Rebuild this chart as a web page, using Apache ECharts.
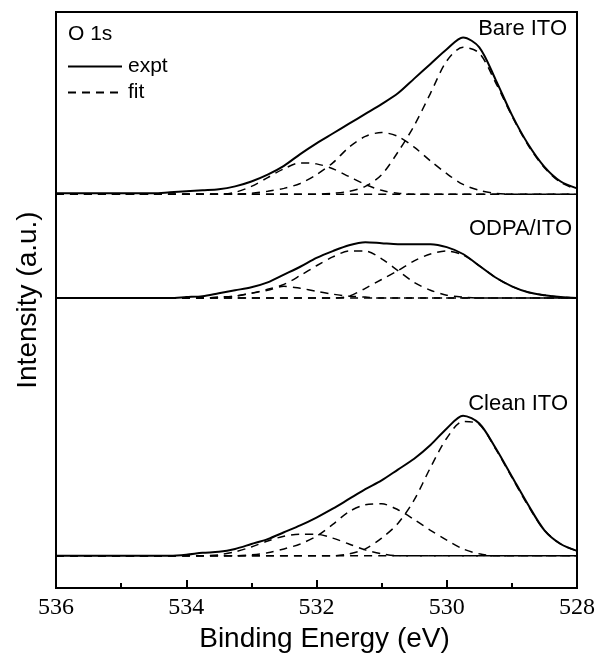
<!DOCTYPE html>
<html>
<head>
<meta charset="utf-8">
<title>O 1s XPS</title>
<script src="https://cdn.jsdelivr.net/npm/echarts@6/dist/echarts.min.js"></script>
<style>
  html, body { margin: 0; padding: 0; background: #fff; }
  #main { width: 605px; height: 658px; }
</style>
</head>
<body>
<div id="main"></div>
<script>
// binding energy grid (eV), read left to right
var be = [536, 535.75, 535.5, 535.25, 535, 534.75, 534.5, 534.25, 534, 533.75, 533.5,
  533.25, 533, 532.75, 532.5, 532.25, 532, 531.75, 531.5, 531.25, 531, 530.75, 530.5,
  530.25, 530, 529.75, 529.5, 529.25, 529, 528.75, 528.5, 528.25, 528];

// Bare ITO (offset spectrum, arb. units)
var bareExpt = [403, 403, 403, 403, 403, 403, 403, 404, 405, 406, 407, 410, 415, 422, 431, 443, 454,
  464, 474, 484, 494, 505, 520, 535, 550, 562, 552, 519, 483, 453, 430, 415, 408];
var bareBig = [402, 402, 402, 402, 402, 402, 402, 402, 402, 402, 402, 402, 402, 402, 402, 402, 402,
  403, 405, 410, 422, 445, 472, 505, 538, 552, 546, 516, 482, 452, 429, 414, 407];
var bareMid = [402, 402, 402, 402, 402, 402, 402, 402, 402, 402, 402, 402, 403, 405, 408, 413, 422,
  434, 450, 461, 465, 461, 450, 436, 423, 412, 406, 403, 402, 402, 402, 402, 402];
var bareSmall = [402, 402, 402, 402, 402, 402, 402, 402, 402, 402, 402, 404, 410, 419, 428, 434, 433,
  428, 420, 412, 406, 403, 402, 402, 402, 402, 402, 402, 402, 402, 402, 402, 402];

// ODPA/ITO
var odpaExpt = [296, 296, 296, 296, 296, 296, 296, 296, 297, 298, 301, 304, 307, 312, 320, 328, 337,
  344, 350, 353, 352, 351, 351, 351, 348, 341, 329, 317, 308, 302, 299, 297, 296];
var odpaLeft = [296, 296, 296, 296, 296, 296, 296, 296, 296, 296, 297, 298, 301, 305, 310, 319, 329,
  338, 344, 344, 336, 324, 312, 304, 299, 297, 296, 296, 296, 296, 296, 296, 296];
var odpaRight = [296, 296, 296, 296, 296, 296, 296, 296, 296, 296, 296, 296, 296, 296, 296, 296, 296,
  296, 298, 306, 315, 324, 334, 341, 344, 340, 329, 317, 308, 302, 299, 297, 296];
var odpaSmall = [296, 296, 296, 296, 296, 296, 296, 296, 296, 296, 297, 298, 301, 304, 308, 306, 303,
  300, 298, 297, 296, 296, 296, 296, 296, 296, 296, 296, 296, 296, 296, 296, 296];

// Clean ITO
var cleanExpt = [33, 33, 33, 33, 33, 33, 33, 33, 34, 36, 37, 40, 45, 50, 57, 64, 72,
  81, 91, 101, 110, 121, 132, 146, 163, 176, 168, 143, 114, 85, 59, 45, 38];
var cleanBig = [33, 33, 33, 33, 33, 33, 33, 33, 33, 33, 33, 33, 33, 33, 33, 33, 33,
  33, 35, 40, 51, 66, 90, 123, 153, 170, 167, 142, 113, 84, 59, 45, 38];
var cleanMid = [33, 33, 33, 33, 33, 33, 33, 33, 33, 33, 33, 33, 34, 36, 40, 45, 53,
  65, 78, 85, 86, 80, 70, 59, 49, 40, 35, 33, 33, 33, 33, 33, 33];
var cleanSmall = [33, 33, 33, 33, 33, 33, 33, 33, 33, 33, 34, 37, 42, 48, 53, 55, 55,
  51, 45, 39, 35, 33, 33, 33, 33, 33, 33, 33, 33, 33, 33, 33, 33];

// flat backgrounds under each spectrum
var baseLevels = [402, 296, 33];
var xTicks = [528, 530, 532, 534, 536];

var myChart = echarts.init(document.getElementById('main'));

function pairs(arr) {
  return be.map(function (x, i) { return [x, arr[i]]; });
}

function exptSeries(arr) {
  return {
    name: 'expt', type: 'line', data: pairs(arr), smooth: 0.3,
    symbol: 'none', showSymbol: false, clip: true,
    lineStyle: { color: '#000', width: 2, type: 'solid' }, itemStyle: { color: '#000' }
  };
}

function fitSeries(data) {
  return {
    name: 'fit', type: 'line', data: data, smooth: 0.3,
    symbol: 'none', showSymbol: false, clip: true,
    lineStyle: { color: '#000', width: 1.5, type: [8, 6] }, itemStyle: { color: '#000' }
  };
}

var series = [];
[bareExpt, odpaExpt, cleanExpt].forEach(function (a) { series.push(exptSeries(a)); });
[bareBig, bareMid, bareSmall, odpaLeft, odpaRight, odpaSmall, cleanBig, cleanMid, cleanSmall].forEach(function (a) {
  series.push(fitSeries(pairs(a)));
});
baseLevels.forEach(function (v) {
  series.push(fitSeries([[be[0], v], [be[be.length - 1], v]]));
});

var sans = 'Liberation Sans, Arial, sans-serif';

var option = {
  animation: false,
  backgroundColor: '#fff',
  grid: {
    left: 56, right: 28, top: 12, bottom: 58,
    show: true, borderColor: '#000', borderWidth: 2
  },
  legend: {
    data: ['expt', 'fit'],
    orient: 'vertical',
    left: 62, top: 51,
    itemWidth: 54, itemHeight: 14, itemGap: 5,
    // hide the marker dot, keep only the line
    itemStyle: { color: 'transparent', borderColor: 'transparent', borderWidth: 0 },
    textStyle: { color: '#000', fontSize: 21, fontFamily: sans, padding: [0, 0, 0, 1] }
  },
  xAxis: {
    type: 'value',
    inverse: true,
    min: 528, max: 536, interval: 2,
    name: 'Binding Energy (eV)',
    nameLocation: 'middle',
    nameGap: 33,
    nameTextStyle: { color: '#000', fontSize: 28, fontFamily: sans, padding: [0, 0, 0, 16] },
    axisLine: { show: true, lineStyle: { color: '#000', width: 2 } },
    axisTick: { show: true, inside: true, length: 8, lineStyle: { color: '#000', width: 2 } },
    minorTick: { show: true, splitNumber: 2, length: 5, lineStyle: { color: '#000', width: 2 } },
    axisLabel: {
      color: '#000', fontSize: 24, fontFamily: 'Liberation Serif, Times New Roman, serif', margin: 8,
      formatter: function (v) { return xTicks.indexOf(v) >= 0 ? String(v) : ''; }
    },
    splitLine: { show: false }
  },
  yAxis: {
    type: 'value',
    min: 0, max: 588,
    name: 'Intensity (a.u.)',
    nameLocation: 'middle',
    nameRotate: 90,
    nameGap: 14,
    nameTextStyle: { color: '#000', fontSize: 28, fontFamily: sans },
    axisLine: { show: true, lineStyle: { color: '#000', width: 2 } },
    axisTick: { show: false },
    axisLabel: { show: false },
    splitLine: { show: false }
  },
  graphic: [
    { type: 'text', x: 68, y: 34, style: { text: 'O 1s', fill: '#000', fontSize: 21, fontFamily: sans, align: 'left', verticalAlign: 'middle' } },
    { type: 'text', x: 567, y: 29, style: { text: 'Bare ITO', fill: '#000', fontSize: 22, fontFamily: sans, align: 'right', verticalAlign: 'middle' } },
    { type: 'text', x: 572, y: 229, style: { text: 'ODPA/ITO', fill: '#000', fontSize: 22, fontFamily: sans, align: 'right', verticalAlign: 'middle' } },
    { type: 'text', x: 568, y: 404, style: { text: 'Clean ITO', fill: '#000', fontSize: 22, fontFamily: sans, align: 'right', verticalAlign: 'middle' } }
  ],
  series: series
};

myChart.setOption(option);
</script>
</body>
</html>
